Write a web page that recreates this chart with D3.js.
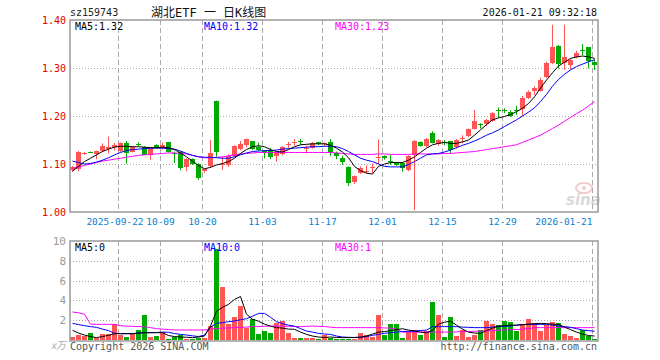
<!DOCTYPE html>
<html>
<head>
<meta charset="utf-8">
<script src="https://cdn.jsdelivr.net/npm/d3@7/dist/d3.min.js"></script>
<style>
    body { margin: 0; background: #fff; }
    text { font-family: "DejaVu Sans Mono", monospace; font-size: 10px; }
    .frame { fill: none; stroke: #999; stroke-width: 1.5px; }
    .vgrid { stroke: #aaa; stroke-dasharray: 5,3; }
    .hgrid { stroke: #aaa; stroke-dasharray: 1,2; }
    .ma { fill: none; stroke-width: 1px; }
</style>
</head>
<body>
<script>

    // trading days shown (88)
    var dates = [
        "2025-09-10","2025-09-11","2025-09-12","2025-09-15","2025-09-16","2025-09-17","2025-09-18","2025-09-19",
        "2025-09-22","2025-09-23","2025-09-24","2025-09-25","2025-09-26","2025-09-29","2025-09-30",
        "2025-10-09","2025-10-10","2025-10-13","2025-10-14","2025-10-15","2025-10-16","2025-10-17",
        "2025-10-20","2025-10-21","2025-10-22","2025-10-23","2025-10-24","2025-10-27","2025-10-28","2025-10-29","2025-10-30","2025-10-31",
        "2025-11-03","2025-11-04","2025-11-05","2025-11-06","2025-11-07","2025-11-10","2025-11-11","2025-11-12","2025-11-13","2025-11-14",
        "2025-11-17","2025-11-18","2025-11-19","2025-11-20","2025-11-21","2025-11-24","2025-11-25","2025-11-26","2025-11-27","2025-11-28",
        "2025-12-01","2025-12-02","2025-12-03","2025-12-04","2025-12-05","2025-12-08","2025-12-09","2025-12-10","2025-12-11","2025-12-12",
        "2025-12-15","2025-12-16","2025-12-17","2025-12-18","2025-12-19","2025-12-22","2025-12-23","2025-12-24","2025-12-25","2025-12-26",
        "2025-12-29","2025-12-30","2025-12-31",
        "2026-01-05","2026-01-06","2026-01-07","2026-01-08","2026-01-09","2026-01-12","2026-01-13","2026-01-14","2026-01-15","2026-01-16",
        "2026-01-19","2026-01-20","2026-01-21"
    ];

    var open = [1.088,1.089,1.121,1.125,1.120,1.127,1.131,1.135,1.127,1.143,1.126,1.141,1.135,1.119,1.140,1.133,1.146,1.122,1.124,1.093,1.110,1.100,
        1.084,1.094,1.231,1.099,1.098,1.117,1.131,1.140,1.148,1.136,1.128,1.129,1.115,1.122,1.139,1.143,1.147,1.132,1.134,1.145,1.141,1.146,
        1.122,1.112,1.094,1.061,1.081,1.083,1.092,1.112,1.116,1.106,1.103,1.103,1.088,1.118,1.146,1.138,1.165,1.141,1.145,1.147,1.135,1.152,
        1.158,1.174,1.183,1.183,1.190,1.213,1.212,1.209,1.213,1.214,1.2375,1.251,1.253,1.281,1.310,1.346,1.310,1.306,1.323,1.338,1.343,1.313];
    var high = [1.096,1.127,1.125,1.126,1.128,1.143,1.157,1.144,1.145,1.148,1.137,1.145,1.137,1.135,1.141,1.145,1.146,1.126,1.127,1.112,1.112,1.101,
        1.090,1.150,1.232,1.115,1.120,1.139,1.148,1.153,1.148,1.145,1.129,1.133,1.126,1.137,1.146,1.152,1.152,1.138,1.146,1.146,1.145,1.152,
        1.126,1.117,1.095,1.076,1.095,1.097,1.101,1.151,1.118,1.119,1.104,1.104,1.118,1.150,1.147,1.154,1.168,1.152,1.150,1.148,1.152,1.160,
        1.174,1.2125,1.185,1.194,1.208,1.218,1.216,1.212,1.221,1.242,1.253,1.262,1.280,1.313,1.390,1.348,1.390,1.320,1.336,1.350,1.343,1.320];
    var low = [1.084,1.085,1.119,1.123,1.110,1.125,1.122,1.128,1.125,1.101,1.124,1.137,1.119,1.108,1.132,1.130,1.124,1.102,1.087,1.085,1.098,1.067,
        1.081,1.092,1.115,1.088,1.094,1.115,1.128,1.135,1.129,1.127,1.112,1.110,1.105,1.118,1.133,1.138,1.140,1.122,1.132,1.139,1.137,1.117,
        1.110,1.098,1.054,1.058,1.079,1.080,1.081,1.100,1.109,1.098,1.096,1.084,1.085,1.004,1.136,1.135,1.143,1.138,1.139,1.122,1.132,1.143,
        1.156,1.172,1.174,1.179,1.188,1.197,1.206,1.198,1.202,1.200,1.235,1.244,1.251,1.279,1.308,1.299,1.296,1.297,1.320,1.327,1.299,1.296];
    var close = [1.094,1.125,1.122,1.124,1.127,1.137,1.136,1.140,1.143,1.122,1.136,1.140,1.119,1.133,1.133,1.140,1.126,1.121,1.090,1.110,1.100,1.070,
        1.089,1.122,1.124,1.100,1.117,1.137,1.141,1.152,1.131,1.129,1.127,1.115,1.124,1.136,1.141,1.145,1.146,1.134,1.144,1.140,1.143,1.126,
        1.115,1.103,1.060,1.074,1.092,1.086,1.094,1.114,1.111,1.104,1.098,1.093,1.117,1.148,1.138,1.153,1.144,1.150,1.144,1.129,1.150,1.154,
        1.172,1.190,1.181,1.192,1.206,1.212,1.210,1.200,1.212,1.2375,1.251,1.258,1.276,1.311,1.344,1.308,1.322,1.317,1.332,1.337,1.313,1.306];

    // moving averages as drawn on the chart
    var ma5 = [1.085,1.095,1.105,1.112,1.119,1.126,1.131,1.135,1.137,1.137,1.136,1.136,1.135,1.134,1.134,1.135,1.134,1.130,1.123,1.115,1.106,1.097,
        1.090,1.093,1.098,1.101,1.105,1.112,1.122,1.130,1.136,1.138,1.136,1.130,1.126,1.125,1.130,1.136,1.140,1.141,1.142,1.142,1.142,1.139,
        1.133,1.125,1.113,1.095,1.086,1.081,1.079,1.095,1.100,1.103,1.103,1.103,1.108,1.115,1.124,1.133,1.140,1.143,1.145,1.143,1.143,1.146,
        1.150,1.160,1.171,1.182,1.192,1.196,1.199,1.203,1.209,1.216,1.226,1.240,1.258,1.275,1.290,1.304,1.312,1.320,1.323,1.325,1.323,1.320];
    var ma10 = [1.106,1.103,1.100,1.101,1.104,1.108,1.113,1.119,1.124,1.128,1.130,1.131,1.132,1.133,1.133,1.133,1.132,1.131,1.127,1.122,1.118,1.115,
        1.114,1.114,1.113,1.112,1.112,1.115,1.119,1.123,1.126,1.127,1.128,1.128,1.129,1.131,1.132,1.133,1.134,1.135,1.136,1.136,1.137,1.137,
        1.136,1.132,1.126,1.119,1.112,1.108,1.105,1.100,1.095,1.094,1.094,1.094,1.099,1.105,1.112,1.119,1.121,1.122,1.125,1.129,1.134,1.139,
        1.143,1.148,1.1535,1.160,1.165,1.171,1.178,1.185,1.192,1.200,1.208,1.217,1.230,1.245,1.262,1.276,1.287,1.296,1.303,1.308,1.313,1.317];
    var ma30 = [1.091,1.094,1.097,1.100,1.103,1.106,1.108,1.110,1.112,1.114,1.116,1.118,1.119,1.120,1.121,1.122,1.123,1.123,1.122,1.121,1.118,1.115,
        1.113,1.113,1.114,1.115,1.117,1.119,1.121,1.122,1.123,1.124,1.124,1.124,1.124,1.124,1.124,1.124,1.124,1.124,1.124,1.124,1.124,1.124,
        1.123,1.122,1.121,1.120,1.120,1.120,1.120,1.121,1.121,1.120,1.120,1.120,1.120,1.121,1.121,1.121,1.121,1.121,1.122,1.122,1.123,1.124,
        1.125,1.126,1.128,1.130,1.132,1.134,1.136,1.138,1.140,1.145,1.150,1.155,1.160,1.167,1.174,1.181,1.189,1.197,1.205,1.212,1.221,1.230];

    // volume, 万
    var volume = [0.33,0.54,0.44,0.67,0.24,0.64,0.64,1.58,0.5,0.33,0.57,1.0,2.5,0.33,0.44,0.85,0.1,0.35,0.5,0.1,0.1,0.18,
        0.23,1.41,9.2,5.4,1.6,2.3,3.4,1.24,2.1,0.64,0.9,0.74,1.68,1.9,0.74,0.24,0.2,0.2,0.22,0.15,0.5,0.24,
        0.07,0.13,0.13,0.07,0.7,0.47,0.33,2.5,0.54,1.6,1.6,0.2,0.9,1.0,0.54,0.9,3.8,2.5,0.33,2.3,0.4,1.0,
        0.33,0.5,1.0,1.9,1.65,1.5,1.9,1.8,0.9,1.6,2.1,1.68,0.9,1.5,1.8,1.68,0.6,0.44,0.2,0.97,0.4,0.13];
    var vma5 = [0.98,0.7,0.5,0.35,0.24,0.35,0.47,0.64,0.64,0.64,0.64,0.7,0.74,0.74,0.74,0.74,0.45,0.35,0.3,0.28,0.24,0.3,
        0.4,1.4,2.9,3.3,3.6,4.1,4.4,2.6,2.1,1.9,1.6,1.4,1.25,1.2,1.1,1.08,0.8,0.57,0.4,0.3,0.26,0.3,
        0.26,0.24,0.24,0.26,0.3,0.4,0.6,0.8,0.85,0.95,1.05,1.14,1.0,0.91,0.8,0.74,0.95,1.6,1.8,1.9,1.5,1.1,
        0.8,0.7,0.67,0.95,1.2,1.4,1.45,1.5,1.5,1.55,1.6,1.65,1.68,1.65,1.6,1.58,1.3,1.05,0.8,0.6,0.45,0.4];
    var vma10 = [1.68,1.55,1.45,1.35,1.28,1.1,0.95,0.68,0.64,0.64,0.64,0.7,0.74,0.74,0.76,0.8,0.78,0.65,0.57,0.5,0.42,0.35,
        0.5,1.3,1.68,1.75,1.85,1.92,2.05,2.15,2.4,2.69,2.69,2.3,1.85,1.65,1.5,1.4,1.15,0.91,0.8,0.67,0.6,0.57,
        0.4,0.3,0.27,0.25,0.24,0.35,0.47,0.57,0.67,0.74,0.8,0.85,0.88,0.91,0.96,1.0,1.35,1.35,1.35,1.35,1.35,1.3,
        1.28,1.25,1.25,1.25,1.3,1.35,1.38,1.41,1.5,1.55,1.58,1.58,1.58,1.58,1.5,1.41,1.35,1.28,1.15,1.0,0.95,0.88];
    var vma30 = [2.83,2.75,2.6,1.6,1.58,1.58,1.58,1.58,1.45,1.4,1.38,1.36,1.35,1.25,1.15,1.1,1.05,1.02,1.01,1.01,1.01,1.01,
        1.01,1.1,1.15,1.2,1.22,1.25,1.28,1.3,1.35,1.36,1.38,1.4,1.41,1.4,1.38,1.36,1.35,1.38,1.41,1.38,1.36,1.3,
        1.25,1.25,1.25,1.25,1.25,1.25,1.25,1.25,1.22,1.2,1.1,0.8,0.8,0.8,0.8,0.8,0.8,0.8,0.8,0.8,0.82,0.84,
        0.86,0.88,0.9,0.92,0.95,1.0,1.0,1.05,1.05,1.1,1.15,1.25,1.25,1.25,1.25,1.25,1.25,1.25,1.25,1.25,1.25,1.25];

    var tickDates = ["2025-09-22","2025-10-09","2025-10-20","2025-11-03","2025-11-17","2025-12-01","2025-12-15","2025-12-29","2026-01-21"];
    var tickLabels = ["2025-09-22","10-09","10-20","11-03","11-17","12-01","12-15","12-29","2026-01-21"];
    var priceTicks = [1.00, 1.10, 1.20, 1.30, 1.40];
    var volTicks = [2, 4, 6, 8, 10];

    var RED = "#ff5555", GREEN = "#00aa00";

    var svg = d3.select("body").append("svg")
        .attr("width", 660)
        .attr("height", 360);

    var x = d3.scaleBand().domain(dates).range([70, 598]);
    var bw = x.bandwidth() - 1;
    var cx = function (d) { return x(d) + bw / 2; };

    var y = d3.scaleLinear().domain([1.0, 1.4]).range([212, 20]);
    var yv = d3.scaleLinear().domain([0, 10]).range([340, 241]);

    var idx = d3.range(dates.length);

    // ---- header ----
    svg.append("text").attr("x", 70).attr("y", 16).attr("fill", "#222").text("sz159743");
    svg.append("text").attr("x", 151).attr("y", 17)
        .style("font-size", "12px")
        .style("font-family", "'DejaVu Sans Mono', 'Noto Sans CJK SC'")
        .attr("fill", "#111").text("湖北ETF 一 日K线图");
    svg.append("text").attr("x", 597).attr("y", 16).attr("text-anchor", "end")
        .attr("fill", "#111").text("2026-01-21 09:32:18");

    // ---- grids ----
    function grid(top, bottom, hvals, yscale) {
        svg.selectAll(null).data(tickDates).enter().append("line")
            .attr("class", "vgrid")
            .attr("x1", function (d) { return x(d) + 0.5; })
            .attr("x2", function (d) { return x(d) + 0.5; })
            .attr("y1", top).attr("y2", bottom);
        svg.selectAll(null).data(hvals).enter().append("line")
            .attr("class", "hgrid")
            .attr("x1", 70).attr("x2", 598)
            .attr("y1", function (d) { return Math.round(yscale(d)) + 0.5; })
            .attr("y2", function (d) { return Math.round(yscale(d)) + 0.5; });
    }
    grid(20, 212, [1.1, 1.2, 1.3], y);
    grid(241, 340, [2, 4, 6, 8], yv);

    // sina watermark
    var logo = svg.append("g").attr("opacity", 0.55);
    logo.append("ellipse").attr("cx", 584).attr("cy", 188).attr("rx", 8).attr("ry", 5)
        .attr("fill", "none").attr("stroke", "#e8a0a0").attr("stroke-width", 2);
    logo.append("circle").attr("cx", 584).attr("cy", 188).attr("r", 2).attr("fill", "#e8a0a0");
    logo.append("text").attr("x", 566).attr("y", 205)
        .style("font-family", "'DejaVu Sans'").style("font-size", "15px")
        .style("font-weight", "bold").style("font-style", "italic")
        .attr("fill", "#bbb").text("sina");

    // ---- price axis labels ----
    svg.selectAll(null).data(priceTicks).enter().append("text")
        .attr("x", 66).attr("y", function (d) { return y(d) + 4; })
        .attr("text-anchor", "end").attr("fill", "#e00000")
        .text(function (d) { return d3.format(".2f")(d); });

    // date labels (first one sits a little left so it just meets "10-09")
    svg.selectAll(null).data(tickDates).enter().append("text")
        .attr("x", function (d, i) { return x(d) + 0.5 - (i === 0 ? 3.5 : 0); })
        .attr("y", 225)
        .style("font-size", "9.5px")
        .attr("text-anchor", function (d, i) { return i === tickDates.length - 1 ? "end" : "middle"; })
        .attr("fill", "#0a7fd0")
        .text(function (d, i) { return tickLabels[i]; });

    // ---- candles ----
    function col(i) { return close[i] >= open[i] ? RED : GREEN; }

    var candles = svg.append("g");
    candles.selectAll("line").data(idx).enter().append("line")
        .attr("x1", function (i) { return Math.floor(cx(dates[i])) + 0.5; })
        .attr("x2", function (i) { return Math.floor(cx(dates[i])) + 0.5; })
        .attr("y1", function (i) { return y(high[i]); })
        .attr("y2", function (i) { return y(low[i]); })
        .attr("stroke", col);
    candles.selectAll("rect").data(idx).enter().append("rect")
        .attr("x", function (i) { return x(dates[i]); })
        .attr("width", bw)
        .attr("y", function (i) { return Math.round(y(Math.max(open[i], close[i]))); })
        .attr("height", function (i) { return Math.max(1, Math.round(Math.abs(y(open[i]) - y(close[i])))); })
        .attr("fill", col);

    function maLine(vals, yscale, color) {
        svg.append("path")
            .datum(vals)
            .attr("class", "ma")
            .attr("stroke", color)
            .attr("d", d3.line()
                .x(function (d, i) { return cx(dates[i]); })
                .y(function (d) { return yscale(d); }));
    }
    maLine(ma30, y, "#ff00ff");
    maLine(ma10, y, "#0000ff");
    maLine(ma5, y, "#000");

    svg.append("text").attr("x", 75).attr("y", 30).attr("fill", "#000").text("MA5:1.32");
    svg.append("text").attr("x", 204).attr("y", 30).attr("fill", "#0000ff").text("MA10:1.32");
    svg.append("text").attr("x", 335).attr("y", 30).attr("fill", "#ff00ff").text("MA30:1.23");

    // ---- volume ----
    svg.append("g").selectAll("rect").data(idx).enter().append("rect")
        .attr("x", function (i) { return x(dates[i]); })
        .attr("width", bw)
        .attr("y", function (i) { return Math.round(yv(volume[i])); })
        .attr("height", function (i) { return 340 - Math.round(yv(volume[i])); })
        .attr("fill", col);

    maLine(vma30, yv, "#ff00ff");
    maLine(vma10, yv, "#0000ff");
    maLine(vma5, yv, "#000");

    svg.selectAll(null).data(volTicks).enter().append("text")
        .attr("x", 66).attr("y", function (d) { return yv(d) + 4; })
        .attr("text-anchor", "end").attr("fill", "#999")
        .style("font-size", "11px")
        .text(function (d) { return d; });
    svg.append("text").attr("x", 66).attr("y", 349).attr("text-anchor", "end")
        .attr("fill", "#aaa").style("font-family", "'Noto Sans CJK SC'").style("font-size", "10px")
        .style("font-style", "italic").text("x万");

    svg.append("text").attr("x", 75).attr("y", 251).attr("fill", "#000").text("MA5:0");
    svg.append("text").attr("x", 204).attr("y", 251).attr("fill", "#0000ff").text("MA10:0");
    svg.append("text").attr("x", 335).attr("y", 251).attr("fill", "#ff00ff").text("MA30:1");

    // ---- frames ----
    svg.append("rect").attr("class", "frame").attr("x", 70).attr("y", 20).attr("width", 528).attr("height", 192);
    svg.append("rect").attr("class", "frame").attr("x", 70).attr("y", 241).attr("width", 528).attr("height", 100);

    // footer
    svg.append("text").attr("x", 70).attr("y", 350).attr("fill", "#555").text("Copyright 2026 SINA.COM");
    svg.append("text").attr("x", 597).attr("y", 350).attr("text-anchor", "end").attr("fill", "#555")
        .text("http://finance.sina.com.cn");

</script>
</body>
</html>
